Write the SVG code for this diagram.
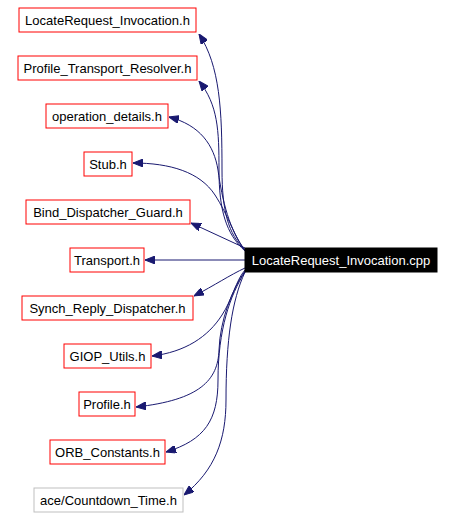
<svg xmlns="http://www.w3.org/2000/svg" width="454" height="518" viewBox="0 0 454 518">
<style>
.n rect{fill:#fff;stroke:#ff0000;stroke-width:1}
.n text{font-family:"Liberation Sans",Arial,sans-serif;font-size:13px;fill:#000;text-anchor:middle}
#n11 rect{stroke:#bfbfbf}
#main rect{fill:#000;stroke:#000}
#main text{fill:#fff}
.e path{fill:none;stroke:#191970;stroke-width:1;marker-end:url(#ah)}
</style>
<defs>
<marker id="ah" viewBox="0 0 10 8" refX="10" refY="4" markerWidth="10" markerHeight="8" markerUnits="userSpaceOnUse" orient="auto">
<path d="M0,0 L10,4 L0,8 z" fill="#191970" stroke="#191970" stroke-width="1"/>
</marker>
</defs>
<rect width="454" height="518" fill="#fff"/>
<g class="e" id="edges">
<path d="M245,250 C228,234 222,210 222,170 C222,110 220,66 199,34"/>
<path d="M245,251 C226,234 219,210 219,170 C219,130 218,105 199,81"/>
<path d="M245,250 C230,232 222,200 218,170 C214,145 200,125 169,117"/>
<path d="M245,250 C236,240 228,215 215,195 C200,172 170,163 133,163"/>
<path d="M245,248 L191,223"/>
<path d="M245,260 L145,260"/>
<path d="M245,268 C230,275 215,285 194,296"/>
<path d="M245,270 C236,280 232,300 222,315 C208,337 185,352 152,356"/>
<path d="M245,271 C232,290 220,320 219,350 C218,380 200,400 136,407"/>
<path d="M245,272 C230,295 218,330 218,380 C218,420 205,440 166,452"/>
<path d="M245,272 C232,300 226,340 226,400 C226,440 215,470 184,495"/>
</g>
<g class="n" id="main"><rect x="245" y="248" width="192" height="24"/><text x="341" y="265">LocateRequest_Invocation.cpp</text></g>
<g class="n" id="n1"><rect x="19" y="8" width="177" height="24"/><text x="107.5" y="25">LocateRequest_Invocation.h</text></g>
<g class="n" id="n2"><rect x="18" y="56" width="179" height="24"/><text x="107.5" y="73">Profile_Transport_Resolver.h</text></g>
<g class="n" id="n3"><rect x="46" y="104" width="122" height="24"/><text x="107" y="121">operation_details.h</text></g>
<g class="n" id="n4"><rect x="84" y="152" width="48" height="24"/><text x="108" y="169">Stub.h</text></g>
<g class="n" id="n5"><rect x="26" y="200" width="164" height="24"/><text x="108" y="217">Bind_Dispatcher_Guard.h</text></g>
<g class="n" id="n6"><rect x="70" y="248" width="74" height="24"/><text x="107" y="265">Transport.h</text></g>
<g class="n" id="n7"><rect x="22" y="296" width="171" height="24"/><text x="107.5" y="313">Synch_Reply_Dispatcher.h</text></g>
<g class="n" id="n8"><rect x="64" y="344" width="87" height="24"/><text x="107.5" y="361">GIOP_Utils.h</text></g>
<g class="n" id="n9"><rect x="79" y="392" width="56" height="24"/><text x="107" y="409">Profile.h</text></g>
<g class="n" id="n10"><rect x="50" y="440" width="115" height="24"/><text x="107.5" y="457">ORB_Constants.h</text></g>
<g class="n" id="n11"><rect x="34" y="488" width="149" height="24"/><text x="108.5" y="505">ace/Countdown_Time.h</text></g>
</svg>
